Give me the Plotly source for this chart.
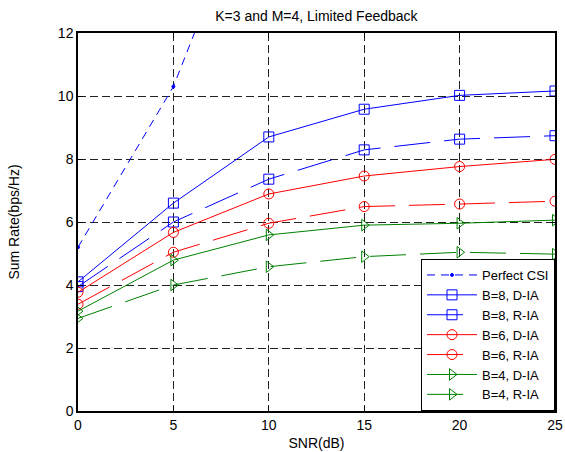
import plotly.graph_objects as go

snr = [0, 5, 10, 15, 20, 25]
perfect_csi = [5.2, 10.3, 18.0, 27.0, 37.0, 47.0]
b8_dia = [4.1, 6.6, 8.7, 9.58, 10.02, 10.16]
b8_ria = [3.95, 6.0, 7.36, 8.29, 8.63, 8.74]
b6_dia = [3.77, 5.67, 6.89, 7.46, 7.76, 7.99]
b6_ria = [3.39, 5.04, 5.96, 6.49, 6.57, 6.66]
b4_dia = [3.17, 4.79, 5.59, 5.9, 5.96, 6.06]
b4_ria = [2.94, 4.0, 4.58, 4.9, 5.04, 4.98]

x_ticks = [0, 5, 10, 15, 20, 25]
y_ticks = [0, 2, 4, 6, 8, 10, 12]

FONT = "Liberation Sans, Arial, sans-serif"
LONG_DASH = "36px,14px"

series = [
    ("Perfect CSI", perfect_csi, "blue", "8px,6px", "circle", 3),
    ("B=8, D-IA", b8_dia, "blue", "solid", "square-open", 10),
    ("B=8, R-IA", b8_ria, "blue", LONG_DASH, "square-open", 10),
    ("B=6, D-IA", b6_dia, "red", "solid", "circle-open", 10),
    ("B=6, R-IA", b6_ria, "red", LONG_DASH, "circle-open", 10),
    ("B=4, D-IA", b4_dia, "green", "solid", "triangle-right-open", 10),
    ("B=4, R-IA", b4_ria, "green", LONG_DASH, "triangle-right-open", 10),
]

fig = go.Figure()
for name, vals, color, dash, sym, size in series:
    fig.add_trace(go.Scatter(
        x=snr, y=vals, name=name, mode="lines+markers",
        line=dict(color=color, width=1, dash=dash),
        marker=dict(symbol=sym, size=size, color=color, line=dict(color=color, width=1)),
    ))

axis_common = dict(
    showline=True, linecolor="black", linewidth=1.5, mirror="ticks",
    ticks="inside", ticklen=5, tickcolor="black", automargin=False,
    showgrid=True, gridcolor="#222222", gridwidth=1, griddash="8px,4px",
    zeroline=False, tickfont=dict(size=14, color="black", family=FONT),
)

fig.update_layout(
    width=565, height=452,
    margin=dict(l=78, r=10, t=33, b=41),
    paper_bgcolor="white", plot_bgcolor="white",
    font=dict(family=FONT, size=14, color="black"),
    title=dict(text="K=3 and M=4, Limited Feedback", x=0.56, xanchor="center",
               y=1 - 16 / 452, yanchor="middle", font=dict(size=14)),
    xaxis=dict(range=[0, 25], tickvals=x_ticks,
               title=dict(text="SNR(dB)", standoff=7, font=dict(size=14)), **axis_common),
    yaxis=dict(range=[0, 12], tickvals=y_ticks,
               title=dict(text="Sum Rate(bps/Hz)", standoff=35, font=dict(size=14)), **axis_common),
    legend=dict(x=1, xanchor="right", y=0, yanchor="bottom",
                bgcolor="white", bordercolor="black", borderwidth=1,
                font=dict(size=13, family=FONT), tracegroupgap=0, itemwidth=50),
    showlegend=True,
)

fig.write_html("out.html")
